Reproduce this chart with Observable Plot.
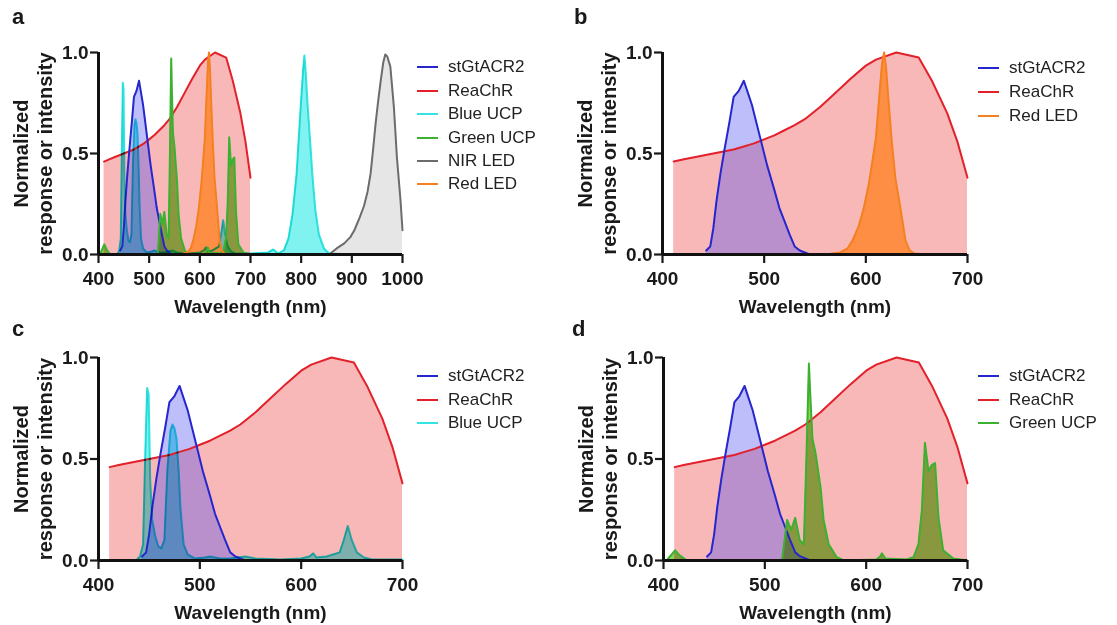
<!DOCTYPE html>
<html>
<head>
<meta charset="utf-8">
<script src="https://cdn.jsdelivr.net/npm/d3@7"></script>
<script src="https://cdn.jsdelivr.net/npm/@observablehq/plot@0.6"></script>
<style>
  html, body { margin: 0; padding: 0; background: #fff; }
  #root { position: relative; width: 1117px; height: 625px; overflow: hidden; font-family: "Liberation Sans", Arial, sans-serif; color: #1a1a1a; }
  .panel { position: absolute; }
  .letter { position: absolute; font-size: 22px; font-weight: bold; line-height: 22px; }
  .leg { position: absolute; display: flex; align-items: center; height: 24px; font-size: 17px; color: #222; white-space: nowrap; }
  .leg span.sw { display: inline-block; width: 21px; height: 2.5px; margin-right: 10px; }
</style>
</head>
<body>
<div id="root"></div>
<script>
// ---------------- data (wavelength nm, normalized value) ----------------
const stGtACR2 = [[443,0.02],[447,0.04],[450,0.13],[453,0.26],[457,0.40],[461,0.52],[466,0.66],[470,0.78],[475,0.81],[480,0.86],[484,0.80],[488,0.74],[492,0.66],[497,0.56],[503,0.44],[510,0.32],[515,0.23],[520,0.165],[525,0.10],[530,0.04],[535,0.02],[540,0.01],[545,0],[560,0],[580,0]];
const ReaChR = [[411,0.46],[420,0.47],[430,0.48],[440,0.49],[450,0.50],[460,0.51],[470,0.52],[480,0.535],[490,0.55],[500,0.57],[510,0.59],[520,0.615],[530,0.64],[540,0.67],[555,0.73],[570,0.80],[585,0.87],[600,0.935],[610,0.965],[630,1.0],[652,0.975],[665,0.86],[680,0.70],[690,0.56],[700,0.38]];
const blueUCP = [[437,0],[441,0.02],[444,0.08],[446,0.5],[448,0.85],[449.5,0.82],[451,0.4],[453,0.2],[456,0.12],[459,0.07],[462,0.06],[465,0.1],[468,0.45],[471,0.64],[473,0.67],[475,0.65],[477,0.6],[479,0.45],[481,0.25],[484,0.08],[488,0.03],[495,0.01],[505,0.015],[510,0.02],[520,0.01],[530,0.01],[545,0.02],[555,0.01],[580,0.005],[600,0.01],[608,0.02],[612,0.035],[615,0.015],[625,0.02],[638,0.04],[642,0.1],[646,0.17],[650,0.1],[655,0.04],[662,0.015],[670,0.005],[700,0.005],[735,0.01],[745,0.025],[755,0.005],[766,0.02],[775,0.08],[783,0.2],[791,0.40],[799,0.73],[804,0.92],[806.5,0.985],[809,0.9],[813,0.73],[818,0.55],[822,0.40],[828,0.22],[835,0.1],[845,0.03],[855,0.005],[900,0]];
const greenUCP = [[403,0],[411.5,0.05],[416,0.025],[423,0],[470,0],[517,0],[522,0.2],[526,0.15],[530,0.21],[534.5,0.1],[538.5,0.08],[541,0.5],[543.5,0.97],[545,0.8],[547,0.6],[550,0.53],[555,0.36],[558,0.2],[563,0.08],[571,0.016],[578,0],[610,0.005],[613.8,0.02],[615.5,0.035],[619,0.01],[640,0.005],[646.7,0.016],[651.6,0.08],[655,0.25],[658,0.58],[661.5,0.44],[664.8,0.47],[668,0.48],[671.4,0.21],[676,0.05],[686,0.01],[700,0]];
const nirLED = [[855,0],[870,0.03],[885,0.055],[897,0.086],[905,0.12],[915,0.18],[924,0.24],[931,0.31],[937,0.40],[942,0.52],[947,0.65],[952,0.76],[957,0.86],[962,0.95],[966,0.99],[970,0.98],[976,0.93],[983,0.73],[989,0.48],[996,0.27],[1000,0.12]];
const redLED = [[560,0],[575,0.01],[582,0.03],[587,0.07],[593,0.14],[598,0.23],[603,0.35],[607,0.48],[610,0.58],[613.5,0.8],[616,0.95],[618,1.0],[620,0.92],[622,0.78],[625.5,0.56],[629,0.38],[634,0.23],[639,0.07],[643,0.02],[648,0.005],[660,0],[680,0]];

const xTicksWide = [400, 500, 600, 700, 800, 900, 1000];
const xTicksNarrow = [400, 500, 600, 700];
const yTicks = [0, 0.5, 1];
const xLabel = "Wavelength (nm)";
const yLabel = "Normalized\nresponse or intensity";
const panelLetters = ["a", "b", "c", "d"];
const legendA = ["stGtACR2", "ReaChR", "Blue UCP", "Green UCP", "NIR LED", "Red LED"];
const legendB = ["stGtACR2", "ReaChR", "Red LED"];
const legendC = ["stGtACR2", "ReaChR", "Blue UCP"];
const legendD = ["stGtACR2", "ReaChR", "Green UCP"];

// ---------------- styles ----------------
const SPECTRA = {"stGtACR2": stGtACR2, "ReaChR": ReaChR, "Blue UCP": blueUCP, "Green UCP": greenUCP, "NIR LED": nirLED, "Red LED": redLED};
const STYLE = {
  "stGtACR2": {stroke: "#2626cf", fill: "#4a4af2", fillOpacity: 0.36},
  "ReaChR":   {stroke: "#e2212a", fill: "#ee3434", fillOpacity: 0.35},
  "Blue UCP": {stroke: "#33e4e2", fill: "#5cf0ec", fillOpacity: 0.78, blend: "multiply", lineBlend: "multiply"},
  "Green UCP":{stroke: "#3cb030", fill: "#86d04e", fillOpacity: 0.95, blend: "multiply"},
  "NIR LED":  {stroke: "#6c6c6c", fill: "#e6e6e6", fillOpacity: 1},
  "Red LED":  {stroke: "#f4801f", fill: "#ff801e", fillOpacity: 0.75}
};
const DRAW_ORDER = ["ReaChR", "stGtACR2", "Blue UCP", "Green UCP", "Red LED", "NIR LED"];

const W = 440, H = 300;
const panels = [
  {letter: panelLetters[0], left: 0,   top: 22,  mL: 98,  mR: 38, mT: 30, mB: 68, xMin: 400, xMax: 1000, ticks: xTicksWide,   legend: legendA, legX: 417, legY: [67, 91, 114, 138, 161, 184], letX: 12,  letY: 6},
  {letter: panelLetters[1], left: 560, top: 22,  mL: 102, mR: 33, mT: 30, mB: 68, xMin: 400, xMax: 700,  ticks: xTicksNarrow, legend: legendB, legX: 978, legY: [68, 92, 116], letX: 574, letY: 6},
  {letter: panelLetters[2], left: 0,   top: 327, mL: 98,  mR: 38, mT: 30, mB: 67, xMin: 400, xMax: 700,  ticks: xTicksNarrow, legend: legendC, legX: 417, legY: [376, 400, 423], letX: 12, letY: 318},
  {letter: panelLetters[3], left: 560, top: 327, mL: 103, mR: 33, mT: 30, mB: 67, xMin: 400, xMax: 700,  ticks: xTicksNarrow, legend: legendD, legX: 978, legY: [376, 400, 423], letX: 572, letY: 318}
];

const root = document.getElementById("root");
const FONT = "'Liberation Sans', Arial, sans-serif";

for (const p of panels) {
  const names = DRAW_ORDER.filter(n => p.legend.includes(n));
  const tables = {};
  for (const n of names) tables[n] = SPECTRA[n].filter(d => d[0] <= p.xMax).map(([x, y]) => ({x, y}));
  const marks = [];
  for (const n of names) {
    const s = STYLE[n];
    marks.push(Plot.areaY(tables[n], {x: "x", y: "y", fill: s.fill, fillOpacity: s.fillOpacity, mixBlendMode: s.blend}));
  }
  for (const n of names) {
    const s = STYLE[n];
    marks.push(Plot.line(tables[n], {x: "x", y: "y", stroke: s.stroke, strokeWidth: 2, mixBlendMode: s.lineBlend}));
  }
  marks.push(
    Plot.axisX({ticks: p.ticks, tickSize: 9, tickPadding: 8, strokeWidth: 2.2, fontSize: 19, fontWeight: "bold", tickFormat: d => String(d), label: null}),
    Plot.axisY({ticks: yTicks, tickSize: 8, tickPadding: 2, strokeWidth: 2.2, fontSize: 19, fontWeight: "bold", tickFormat: d3.format(".1f"), label: null}),
    Plot.ruleY([0], {strokeWidth: 3, stroke: "#111"}),
    Plot.ruleX([p.xMin], {strokeWidth: 3, stroke: "#111"}),
    Plot.text([xLabel], {text: d => d, frameAnchor: "bottom", dy: 52, fontSize: 19, fontWeight: "bold", textAnchor: "middle", lineAnchor: "middle", fill: "#1a1a1a"}),
    Plot.text([yLabel], {text: d => d, frameAnchor: "left", rotate: -90, dx: -66, fontSize: 20, fontWeight: "bold", lineHeight: 1.17, textAnchor: "middle", lineAnchor: "middle", fill: "#1a1a1a"})
  );
  const svg = Plot.plot({
    width: W, height: H,
    marginLeft: p.mL, marginRight: p.mR, marginTop: p.mT, marginBottom: p.mB,
    x: {domain: [p.xMin, p.xMax]},
    y: {domain: [0, 1]},
    style: {fontFamily: FONT, color: "#1a1a1a", background: "transparent", overflow: "visible"},
    marks
  });
  const div = document.createElement("div");
  div.className = "panel";
  div.style.left = p.left + "px";
  div.style.top = p.top + "px";
  div.appendChild(svg);
  root.appendChild(div);

  const let_ = document.createElement("div");
  let_.className = "letter";
  let_.style.left = p.letX + "px";
  let_.style.top = p.letY + "px";
  let_.textContent = p.letter;
  root.appendChild(let_);

  p.legend.forEach((n, i) => {
    const row = document.createElement("div");
    row.className = "leg";
    row.style.left = p.legX + "px";
    row.style.top = (p.legY[i] - 12) + "px";
    const sw = document.createElement("span");
    sw.className = "sw";
    sw.style.background = STYLE[n].stroke;
    row.appendChild(sw);
    row.appendChild(document.createTextNode(n));
    root.appendChild(row);
  });
}
</script>
</body>
</html>
